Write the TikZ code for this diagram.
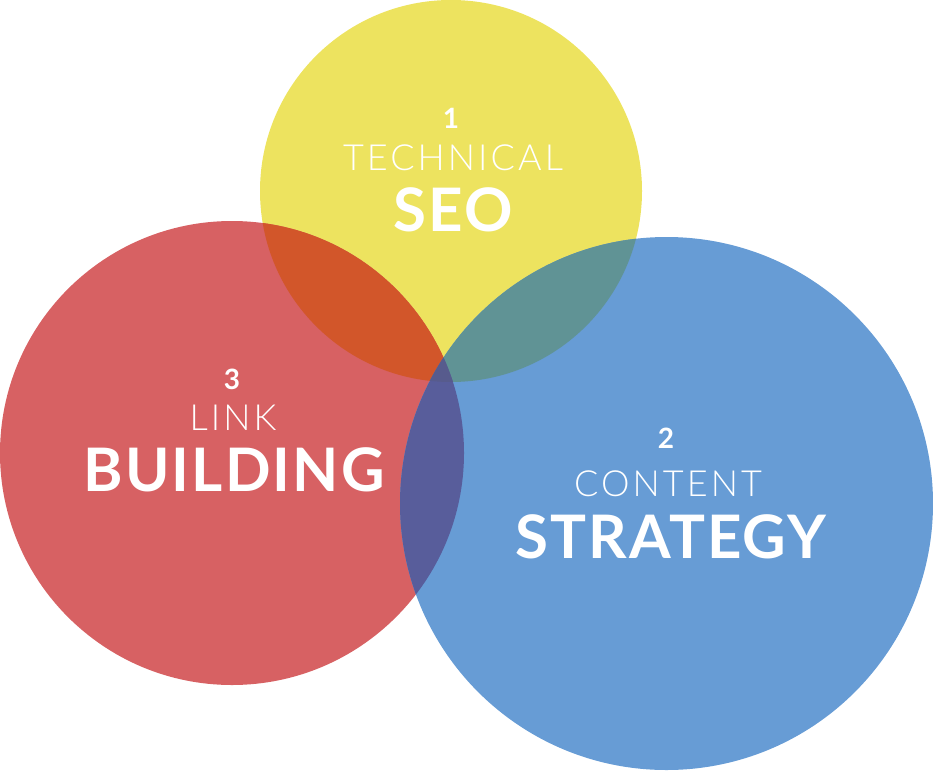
\documentclass[tikz,border=0pt]{standalone}
\usepackage{fontspec}
\setmainfont{Lato}
\newfontfamily\boldfont{Lato Bold}
\newfontfamily\bigfont{Lato Bold}[LetterSpace=3.5]
\newfontfamily\lightfont{Lato Light}[LetterSpace=8.5]
\definecolor{cy}{HTML}{EDE35F}
\definecolor{cr}{HTML}{D76163}
\definecolor{cb}{HTML}{679CD5}
\definecolor{cyr}{HTML}{D2562A}
\definecolor{cyb}{HTML}{609395}
\definecolor{crb}{HTML}{585D9B}
\definecolor{cyrb}{HTML}{575B8D}
\tikzset{
  num/.style={text=white,inner sep=0pt,anchor=base,font=\boldfont\fontsize{28}{28}\selectfont},
  sub/.style={text=white,inner sep=0pt,anchor=base,font=\lightfont\fontsize{36}{36}\selectfont},
  big/.style={text=white,inner sep=0pt,anchor=base,font=\bigfont\fontsize{60}{60}\selectfont},
}
\begin{document}
\begin{tikzpicture}[x=1pt,y=-1pt]
\useasboundingbox (0,0) rectangle (933,770);
\def\cY{(451,191) circle (191)}
\def\cR{(232,453) circle (232)}
\def\cB{(666.5,503.5) circle (266.5)}
\fill[cy] \cY;
\fill[cr] \cR;
\fill[cb] \cB;
\begin{scope}\clip \cY; \fill[cyr] \cR; \end{scope}
\begin{scope}\clip \cY; \fill[cyb] \cB; \end{scope}
\begin{scope}\clip \cR; \fill[crb] \cB; \end{scope}
\begin{scope}\clip \cY; \clip \cR; \fill[cyrb] \cB; \end{scope}
\node[num] (n1) at (451,129) {1};
\node[sub] (t1) at (453,171) {TECHNICAL};
\node[big] (b1) at (453,231) {SEO};
\node[num] (n3) at (232,389) {3};
\node[sub] (t3) at (233,430) {LINK};
\node[big] (b3) at (234,491) {BUILDING};
\node[num] (n2) at (666,448) {2};
\node[sub] (t2) at (668,496) {CONTENT};
\node[big] (b2) at (671,558) {STRATEGY};
\end{tikzpicture}
\end{document}
